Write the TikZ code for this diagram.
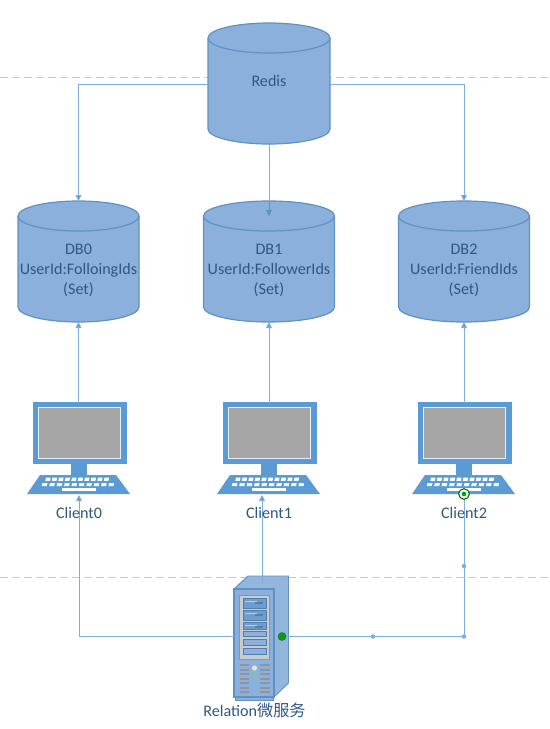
\documentclass[tikz,border=0pt]{standalone}
\usepackage{fontspec}
\setmainfont{Carlito}
\newfontfamily\cjkf{Noto Sans CJK SC}
\usetikzlibrary{arrows.meta}
\definecolor{cylfill}{HTML}{8AB0DB}
\definecolor{cylline}{HTML}{5F92C2}
\definecolor{txt}{HTML}{2F5880}
\definecolor{conn}{HTML}{7FAEDD}
\definecolor{lap}{HTML}{5B9BD5}
\definecolor{scr}{HTML}{A5A5A5}
\definecolor{dash}{HTML}{C8C8C8}
\definecolor{drive}{HTML}{6F9CCB}
\definecolor{driveedge}{HTML}{4F7FAE}
\definecolor{drivelite}{HTML}{B4CDE6}
\definecolor{panel}{HTML}{C9CCCF}
\definecolor{vent}{HTML}{8F959B}
\tikzset{
  x=0.75pt,y=-0.75pt,
  cyl/.style={fill=cylfill,draw=cylline,line width=0.9pt},
  box/.style={inner sep=0pt,outer sep=0pt},
  inner/.style={inner sep=0pt,text=txt,align=center,font=\fontsize{12.1pt}{14.8pt}\selectfont},
  lbl/.style={inner sep=0pt,text=txt,font=\fontsize{12.1pt}{14pt}\selectfont},
  link/.style={draw=conn,line width=0.7pt},
  arr/.style={link,-{Triangle[length=4.5pt,width=4.5pt,fill=lap]}},
  arrin/.style={draw=cylline,line width=0.7pt,-{Triangle[length=4.5pt,width=4.5pt,fill=cylline]}},
  dot/.style={circle,fill=conn,draw=none,inner sep=0pt,minimum size=3.4pt},
  sep/.style={draw=dash,line width=0.6pt,dash pattern=on 6pt off 3pt},
  lapicon/.style={inner sep=0pt,outer sep=0pt,minimum width=78pt,minimum height=68.25pt},
}
\newcommand{\cylshape}[4]{% cx, top, halfwidth, bottom
  \draw[cyl] (#1-#3,#2+15) -- (#1-#3,#4-15) .. controls (#1-#3,#4-6.7) and (#1-#3*0.55,#4) .. (#1,#4) .. controls (#1+#3*0.55,#4) and (#1+#3,#4-6.7) .. (#1+#3,#4-15) -- (#1+#3,#2+15);
  \draw[cyl] (#1,#2+15) ellipse[x radius=#3*0.75pt,y radius=15*0.75pt];
}
\newcommand{\lapshape}[1]{% left x of monitor (33 for client0)
  \begin{scope}[shift={(#1-33,0)}]
    \fill[lap] (33,402) rectangle (127,464);
    \fill[scr,draw=white!85!lap,line width=0.6pt] (38.5,407.5) rectangle (120.5,458.5);
    \fill[lap] (71,464) rectangle (87,475);
    \fill[lap] (40,475) -- (116,475) -- (130,494) -- (27,494) -- cycle;
    \foreach \k in {0,...,9}{
      \fill[white] ({46+\k*6.5},477.7) -- ++(4.6,0) -- ++(-0.7,3.2) -- ++(-4.6,0) -- cycle;
      \fill[white] ({42.5+\k*7.4},483) -- ++(5,0) -- ++(-0.7,3.2) -- ++(-5,0) -- cycle;
    }
    \fill[white] (62,488) rectangle (96,490.5);
  \end{scope}
}
\begin{document}
\begin{tikzpicture}
\useasboundingbox (0,0) rectangle (550,729);
\fill[white] (0,0) rectangle (550,729);
% separators
\coordinate (s1l) at (0,77); \coordinate (s1r) at (550,77);
\coordinate (s2l) at (0,577); \coordinate (s2r) at (550,577);
\draw[sep] (s1l) -- (s1r);
\draw[sep] (s2l) -- (s2r);
% cylinders
\cylshape{269}{23}{61}{144}
\cylshape{78.5}{201}{60.5}{322}
\cylshape{269}{201}{65.5}{322}
\cylshape{464}{201}{65.5}{322}
\node[box,minimum width=91.5pt,minimum height=90.75pt] (redis) at (269,83.5) {};
\node[box,minimum width=90.75pt,minimum height=90.75pt] (db0) at (78.5,261.5) {};
\node[box,minimum width=98.25pt,minimum height=90.75pt] (db1) at (269,261.5) {};
\node[box,minimum width=98.25pt,minimum height=90.75pt] (db2) at (464,261.5) {};
\node[inner] (redist) at (269,81) {Redis};
\node[inner] (db0t) at (78.5,270.5) {DB0\\UserId:FolloingIds\\(Set)};
\node[inner] (db1t) at (269,270.5) {DB1\\UserId:FollowerIds\\(Set)};
\node[inner] (db2t) at (464,270.5) {DB2\\UserId:FriendIds\\(Set)};
% laptops
\lapshape{33}
\lapshape{223}
\lapshape{418}
\node[lapicon] (c0) at (78.5,448) {};
\node[lapicon] (c1) at (269,448) {};
\node[lapicon] (c2) at (464,448) {};
% server
\fill[cylfill!92!white,draw=cylline,line width=0.7pt] (234,589) -- (248,576) -- (288.5,576) -- (288.5,683) -- (274,697) -- (274,589) -- cycle;
\draw[cylline!70!white,line width=0.5pt] (274,589) -- (288.5,576);
\fill[cylfill,draw=cylline,line width=1pt] (234,589) rectangle (274,697);
\fill[cylfill,draw=cylline,line width=0.6pt] (235,697) rectangle (273,700);
\fill[panel,draw=vent,line width=0.3pt] (239.5,595) rectangle (269,659.5);
\foreach \ya/\yb in {598/608,610.5/620,622/629}{
  \fill[drive,draw=driveedge,line width=0.5pt] (243,\ya) rectangle (266.5,\yb);
  \fill[drivelite] (245,\ya+2.5) rectangle (257,\ya+3.7);
  \fill[driveedge] (255,\ya+3.5) rectangle (263,\ya+5.8);
}
\foreach \ya/\yb in {631/636.5,639.5/645,648/654}{
  \fill[cylfill,draw=driveedge,line width=0.6pt] (243,\ya) rectangle (266.5,\yb);
}
\foreach \yy in {664,668.5,673,677.5,682,686.5,690.5}{
  \fill[vent] (239.5,\yy) rectangle (249,\yy+2);
  \fill[vent] (260,\yy) rectangle (270,\yy+2);
}
\fill[white!80!gray] (254.5,668) circle[radius=2.6];
\fill[green!70!yellow] (254.5,675) circle[radius=1.4];
\node[inner sep=0pt,outer sep=0pt,minimum width=40.9pt,minimum height=90.75pt] (srv) at (261.25,636.5) {};
\coordinate (srvtop) at (262,583);
\coordinate (srvleft) at (234,636.5);
% connectors
\draw[arr] (c0.north) -- (db0.south);
\draw[arr] (c1.north) -- (db1.south);
\draw[arr] (c2.north) -- (db2.south);
\coordinate (rl) at (208,84);
\coordinate (rr) at (330,84);
\draw[arr] (rl) -| (db0.north);
\draw[arr] (rr) -| (db2.north);
\coordinate (rb) at (269,144);
\coordinate (db1top) at (269,201);
\coordinate (db1in) at (269,216);
\draw[link] (rb) -- (db1top);
\draw[arrin] (db1top) -- (db1in);
\coordinate (c0in) at (79,495);
\coordinate (c1in) at (262,495);
\coordinate (c2in) at (464,494);
\coordinate (port) at (282,636.5);
\draw[arr] (srvleft) -| (c0in);
\draw[arr] (srvtop) -- (c1in);
\draw[link] (port) -| (c2in);
\node[lbl] (l0) at (79,513) {Client0};
\node[lbl] (l1) at (269,513) {Client1};
\node[lbl] (l2) at (464,513) {Client2};
\node[lbl] (l3) at (254.5,710.5) {Relation{\cjkf 微服务}};
\node[dot] (d1) at (373,636.5) {};
\node[dot] (d2) at (464,636.5) {};
\node[dot] (d3) at (464,566) {};
\node[circle,fill=green!65!black,draw=cylline!60!black,line width=0.4pt,inner sep=0pt,minimum size=6pt] (pt) at (port) {};
\node[circle,fill=white,draw=green!45!black,line width=0.8pt,inner sep=0pt,minimum size=8pt] (tg) at (c2in) {};
\node[circle,fill=green!65!black,inner sep=0pt,minimum size=3.5pt] (tg2) at (c2in) {};
\end{tikzpicture}
\end{document}
